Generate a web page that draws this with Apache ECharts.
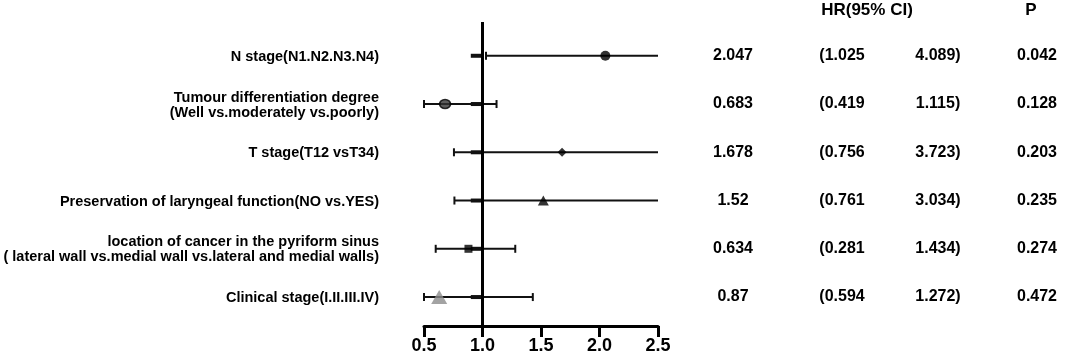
<!DOCTYPE html>
<html>
<head>
<meta charset="utf-8">
<script src="https://cdn.jsdelivr.net/npm/echarts@6/dist/echarts.min.js"></script>
<style>
  html, body { margin: 0; padding: 0; background: #fff; }
  #chart { width: 1067px; height: 357px; }
</style>
</head>
<body>
<div id="chart"></div>
<script>
// row labels (top to bottom)
var labels = [
    'N stage(N1.N2.N3.N4)',
    'Tumour differentiation degree\n(Well vs.moderately vs.poorly)',
    'T stage(T12 vsT34)',
    'Preservation of laryngeal function(NO vs.YES)',
    'location of cancer in the pyriform sinus\n( lateral wall vs.medial wall vs.lateral and medial walls)',
    'Clinical stage(I.II.III.IV)'
];
var rows = [1, 2, 3, 4, 5, 6];

// table columns
var hrText = ['2.047', '0.683', '1.678', '1.52', '0.634', '0.87'];
var ciLowText = ['(1.025', '(0.419', '(0.756', '(0.761', '(0.281', '(0.594'];
var ciHighText = ['4.089)', '1.115)', '3.723)', '3.034)', '1.434)', '1.272)'];
var pText = ['0.042', '0.128', '0.203', '0.235', '0.274', '0.472'];

// what the plot actually draws
var pointX = [2.05, 0.68, 1.68, 1.52, 0.88, 0.63];
var barLow = [1.03, 0.5, 0.756, 0.76, 0.6, 0.5];
var barHigh = [4.089, 1.12, 3.723, 3.034, 1.28, 1.43];
var stubLow = [0.9, 0.9, 0.9, 0.9, 0.9, 0.9];

var xMin = 0.5, xMax = 2.5, xStep = 0.5;

var markers = [
    {symbol: 'circle', symbolSize: 10, itemStyle: {color: '#000'}},
    {symbol: 'circle', symbolSize: [11, 9], itemStyle: {color: '#333', borderColor: '#000', borderWidth: 1.5}},
    {symbol: 'diamond', symbolSize: 9, itemStyle: {color: '#000'}},
    {symbol: 'triangle', symbolSize: [11, 10], itemStyle: {color: '#000'}},
    {symbol: 'rect', symbolSize: 8, itemStyle: {color: '#000'}},
    {symbol: 'triangle', symbolSize: [16, 14], itemStyle: {color: '#8c8c8c'}}
];

var barData = [];
var pointData = [];
for (var i = 0; i < rows.length; i++) {
    barData.push([rows[i], barLow[i], barHigh[i], stubLow[i]]);
    var m = markers[i];
    pointData.push({
        value: [pointX[i], rows[i]],
        symbol: m.symbol,
        symbolSize: m.symbolSize,
        itemStyle: m.itemStyle
    });
}

var chart = echarts.init(document.getElementById('chart'));

var option = {
    animation: false,
    backgroundColor: '#fff',
    grid: {left: 424, width: 234, top: 22, bottom: 31},
    xAxis: {
        type: 'value',
        min: xMin,
        max: xMax,
        interval: xStep,
        position: 'bottom',
        axisLine: {onZero: false, lineStyle: {color: '#000', width: 3}},
        axisTick: {show: true, length: 11, lineStyle: {color: '#000', width: 3}},
        splitLine: {show: false},
        axisLabel: {
            color: '#000',
            fontFamily: 'Liberation Sans',
            fontWeight: 'bold',
            fontSize: 18,
            margin: 11,
            formatter: function (v) { return v.toFixed(1); }
        }
    },
    yAxis: {
        type: 'value',
        min: 0.3,
        max: 6.6,
        inverse: true,
        show: false
    },
    series: [
        {
            type: 'custom',
            clip: false,
            data: barData,
            encode: {x: [1, 2], y: 0},
            renderItem: function (params, api) {
                var row = api.value(0);
                var lo = api.value(1);
                var hi = api.value(2);
                var stub = api.value(3);
                var p0 = api.coord([Math.max(lo, xMin), row]);
                var p1 = api.coord([Math.min(hi, xMax), row]);
                var s0 = api.coord([stub, row]);
                var s1 = api.coord([1, row]);
                var st = {stroke: '#111', lineWidth: 2};
                var kids = [
                    {type: 'line', shape: {x1: p0[0], y1: p0[1], x2: p1[0], y2: p1[1]}, style: st},
                    {type: 'line', shape: {x1: p0[0], y1: p0[1] - 4, x2: p0[0], y2: p0[1] + 4}, style: st},
                    {type: 'rect', shape: {x: s0[0], y: s0[1] - 2, width: s1[0] - s0[0], height: 4}, style: {fill: '#111'}}
                ];
                if (hi <= xMax) {
                    kids.push({type: 'line', shape: {x1: p1[0], y1: p1[1] - 4, x2: p1[0], y2: p1[1] + 4}, style: st});
                }
                return {type: 'group', children: kids};
            },
            markLine: {
                silent: true,
                symbol: 'none',
                label: {show: false},
                lineStyle: {color: '#000', width: 3, type: 'solid'},
                data: [{xAxis: 1}]
            },
            z: 2
        },
        {
            type: 'scatter',
            data: pointData,
            z: 3
        }
    ]
};
chart.setOption(option);

// table + row labels placed on the row positions
var font = 'bold 14.5px "Liberation Sans", Arial, sans-serif';
var numFont = 'bold 16px "Liberation Sans", Arial, sans-serif';
var headFont = 'bold 17px "Liberation Sans", Arial, sans-serif';
var g = [];
g.push({type: 'text', x: 867, y: 10, style: {text: 'HR(95% CI)', font: headFont, fill: '#000', align: 'center', verticalAlign: 'middle'}});
g.push({type: 'text', x: 1031, y: 10, style: {text: 'P', font: headFont, fill: '#000', align: 'center', verticalAlign: 'middle'}});
for (var j = 0; j < rows.length; j++) {
    var y = chart.convertToPixel({yAxisIndex: 0}, rows[j]);
    g.push({type: 'text', x: 379, y: y + 1, style: {text: labels[j], font: font, fill: '#000', align: 'right', verticalAlign: 'middle', lineHeight: 15}});
    g.push({type: 'text', x: 733, y: y, style: {text: hrText[j], font: numFont, fill: '#000', align: 'center', verticalAlign: 'middle'}});
    g.push({type: 'text', x: 842, y: y, style: {text: ciLowText[j], font: numFont, fill: '#000', align: 'center', verticalAlign: 'middle'}});
    g.push({type: 'text', x: 938, y: y, style: {text: ciHighText[j], font: numFont, fill: '#000', align: 'center', verticalAlign: 'middle'}});
    g.push({type: 'text', x: 1037, y: y, style: {text: pText[j], font: numFont, fill: '#000', align: 'center', verticalAlign: 'middle'}});
}
chart.setOption({graphic: g});
</script>
</body>
</html>
